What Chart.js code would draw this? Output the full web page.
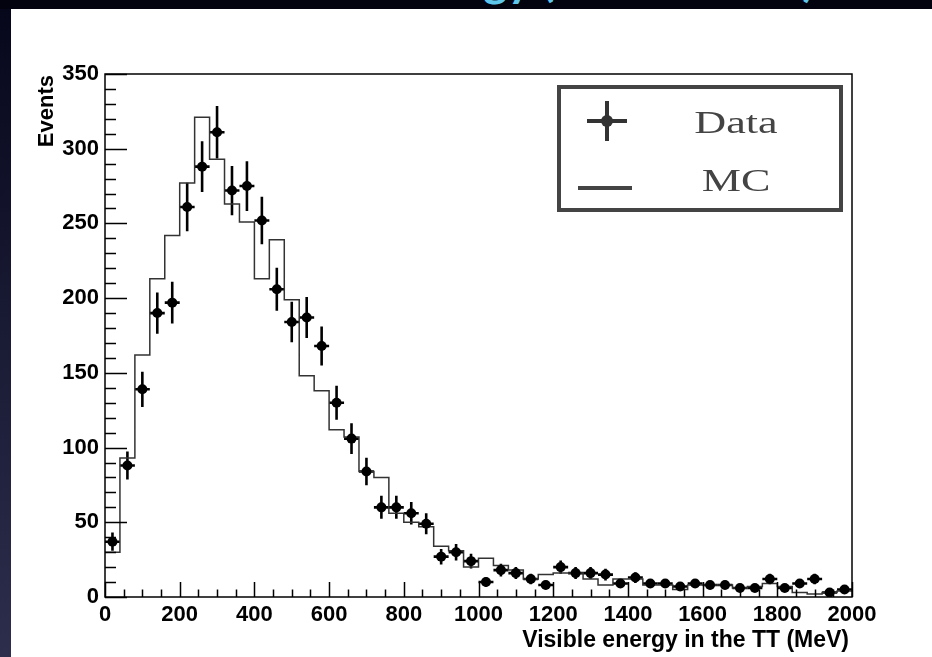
<!DOCTYPE html>
<html lang="en">
<head>
    <meta charset="UTF-8">
    <title>Visible energy in the TT</title>
    <script src="https://cdn.jsdelivr.net/npm/chart.js"></script>
    <style>
        html, body { margin: 0; padding: 0; width: 932px; height: 657px; overflow: hidden; background: #03030f; }
        .side { position: absolute; left: 0; top: 9px; width: 11px; height: 648px; background: linear-gradient(#07071c, #2c2e4c); }
        .panel { position: absolute; left: 11px; top: 9px; width: 921px; height: 648px; background: #fff; }
        .slide-title { position: absolute; right: 117px; top: -44px; font: bold 46px Lato, sans-serif; color: #5ec6ea; white-space: nowrap; line-height: 46px; }
        #plot { position: absolute; left: 0; top: 0; }
    </style>
</head>
<body>
    <div class="slide-title">Visible Energy (Data vs. MC)</div>
    <div class="side"></div>
    <div class="panel"></div>
    <canvas id="plot" width="932" height="657"></canvas>

    <script>
        // histogram binning: 50 bins of 40 MeV from 0 to 2000
        const binWidth = 40;
        const nBins = 50;

        // data points (events per bin) and their vertical errors
        const dataValues = [37, 88, 139, 190, 197, 261, 288, 311, 272, 275,
                            252, 206, 184, 187, 168, 130, 106, 84, 60, 60,
                            56, 49, 27, 30, 24, 10, 18, 16, 12, 8,
                            20, 16, 16, 15, 9, 13, 9, 9, 7, 9,
                            8, 8, 6, 6, 12, 6, 9, 12, 3, 5];
        const dataErrors = [6.1, 9.4, 11.8, 13.8, 14.0, 16.2, 17.0, 17.6, 16.5, 16.6,
                            15.9, 14.4, 13.6, 13.7, 13.0, 11.4, 10.3, 9.2, 7.7, 7.7,
                            7.5, 7.0, 5.2, 5.5, 4.9, 3.2, 4.2, 4.0, 3.5, 2.8,
                            4.5, 4.0, 4.0, 3.9, 3.0, 3.6, 3.0, 3.0, 2.6, 3.0,
                            2.8, 2.8, 2.4, 2.4, 3.5, 2.4, 3.0, 3.5, 1.7, 2.2];

        // MC histogram contents
        const mcValues = [30, 93, 162, 213, 242, 277, 321, 293, 263, 251,
                          213, 239, 199, 148, 138, 112, 107, 84, 80, 56,
                          50, 47, 34, 31, 20, 26, 21, 18, 12, 15,
                          16, 16, 12, 8, 12, 12, 8, 8, 5, 8,
                          8, 8, 6, 7, 9, 7, 3, 2, 3, 4];

        // axis tick labels
        const xTickValues = [0, 200, 400, 600, 800, 1000, 1200, 1400, 1600, 1800, 2000];
        const yTickValues = [0, 50, 100, 150, 200, 250, 300, 350];

        const dataPoints = dataValues.map((v, i) => ({ x: i * binWidth + binWidth / 2, y: v }));
        const mcPoints = mcValues.map((v, i) => ({ x: i * binWidth, y: v }));
        mcPoints.push({ x: nBins * binWidth, y: mcValues[nBins - 1] });

        const tickFont = { family: 'Liberation Sans', weight: 'bold', size: 22 };

        // ROOT-like frame, inward ticks, error bars, axis titles and legend box
        const rootStyle = {
            id: 'rootStyle',
            beforeDatasetsDraw(chart) {
                const { ctx, scales: { x, y } } = chart;
                ctx.save();
                ctx.strokeStyle = '#000';
                ctx.lineWidth = 2.6;
                dataPoints.forEach((p, i) => {
                    const px = x.getPixelForValue(p.x);
                    const py = y.getPixelForValue(p.y);
                    ctx.beginPath();
                    ctx.moveTo(x.getPixelForValue(p.x - binWidth / 2), py);
                    ctx.lineTo(x.getPixelForValue(p.x + binWidth / 2), py);
                    ctx.moveTo(px, y.getPixelForValue(p.y - dataErrors[i]));
                    ctx.lineTo(px, y.getPixelForValue(p.y + dataErrors[i]));
                    ctx.stroke();
                });
                ctx.restore();
            },
            afterDatasetsDraw(chart) {
                const { ctx, chartArea: a, scales: { x, y } } = chart;
                ctx.save();
                ctx.strokeStyle = '#000';
                ctx.lineWidth = 1.5;
                ctx.strokeRect(a.left, a.top, a.right - a.left, a.bottom - a.top);

                // x ticks (major every 200, minor every 50)
                ctx.beginPath();
                for (let v = 0; v <= 2000; v += 50) {
                    const px = Math.round(x.getPixelForValue(v)) + 0.5;
                    const len = v % 200 === 0 ? 15 : 7.5;
                    ctx.moveTo(px, a.bottom);
                    ctx.lineTo(px, a.bottom - len);
                }
                // y ticks (major every 50, minor every 10)
                for (let v = 0; v <= 350; v += 10) {
                    const py = Math.round(y.getPixelForValue(v)) + 0.5;
                    const len = v % 50 === 0 ? 22 : 11;
                    ctx.moveTo(a.left, py);
                    ctx.lineTo(a.left + len, py);
                }
                ctx.stroke();

                // axis titles
                ctx.fillStyle = '#000';
                ctx.font = 'bold 23px "Liberation Sans"';
                ctx.textAlign = 'right';
                ctx.textBaseline = 'alphabetic';
                ctx.fillText('Visible energy in the TT (MeV)', a.right - 3, 647);

                ctx.save();
                ctx.translate(53, 75);
                ctx.rotate(-Math.PI / 2);
                ctx.font = 'bold 22px "Liberation Sans"';
                ctx.fillText('Events', 0, 0);
                ctx.restore();

                // legend box
                ctx.strokeStyle = '#444';
                ctx.lineWidth = 4;
                ctx.strokeRect(559, 87, 282, 123);

                ctx.strokeStyle = '#333';
                ctx.beginPath();
                ctx.moveTo(587, 121); ctx.lineTo(627, 121);
                ctx.moveTo(607, 101); ctx.lineTo(607, 141);
                ctx.stroke();
                ctx.fillStyle = '#333';
                ctx.beginPath();
                ctx.arc(607, 121, 6, 0, Math.PI * 2);
                ctx.fill();

                ctx.strokeStyle = '#444';
                ctx.beginPath();
                ctx.moveTo(578, 188); ctx.lineTo(632, 188);
                ctx.stroke();

                ctx.fillStyle = '#444';
                ctx.font = '32px "Liberation Serif"';
                ctx.textAlign = 'center';
                ctx.textBaseline = 'middle';
                [['Data', 125], ['MC', 183]].forEach(([t, ty]) => {
                    ctx.save();
                    ctx.translate(736, ty);
                    ctx.scale(1.38, 1);
                    ctx.fillText(t, 0, 0);
                    ctx.restore();
                });
                ctx.restore();
            }
        };

        new Chart(document.getElementById('plot'), {
            type: 'scatter',
            data: {
                datasets: [
                    {
                        label: 'Data',
                        data: dataPoints,
                        pointRadius: 5,
                        pointBackgroundColor: '#000',
                        pointBorderWidth: 0,
                        showLine: false,
                        order: 0
                    },
                    {
                        label: 'MC',
                        type: 'line',
                        data: mcPoints,
                        stepped: 'before',
                        borderColor: '#333',
                        borderWidth: 1.5,
                        pointRadius: 0,
                        fill: false,
                        order: 1
                    }
                ]
            },
            options: {
                responsive: false,
                animation: false,
                layout: { padding: { top: 74, right: 80, left: 0, bottom: 0 } },
                plugins: { legend: { display: false }, tooltip: { enabled: false } },
                scales: {
                    x: {
                        type: 'linear', min: 0, max: 2000,
                        afterBuildTicks: s => { s.ticks = xTickValues.map(v => ({ value: v })); },
                        afterFit: s => { s.height = 60; },
                        grid: { display: false, drawTicks: false },
                        border: { display: false },
                        ticks: { font: tickFont, color: '#000', padding: 5, maxRotation: 0, autoSkip: false, callback: v => String(v) }
                    },
                    y: {
                        type: 'linear', min: 0, max: 350,
                        afterBuildTicks: s => { s.ticks = yTickValues.map(v => ({ value: v })); },
                        afterFit: s => { s.width = 105; },
                        grid: { display: false, drawTicks: false },
                        border: { display: false },
                        ticks: { font: tickFont, color: '#000', padding: 6, autoSkip: false, callback: v => String(v) }
                    }
                }
            },
            plugins: [rootStyle]
        });
    </script>
</body>
</html>
